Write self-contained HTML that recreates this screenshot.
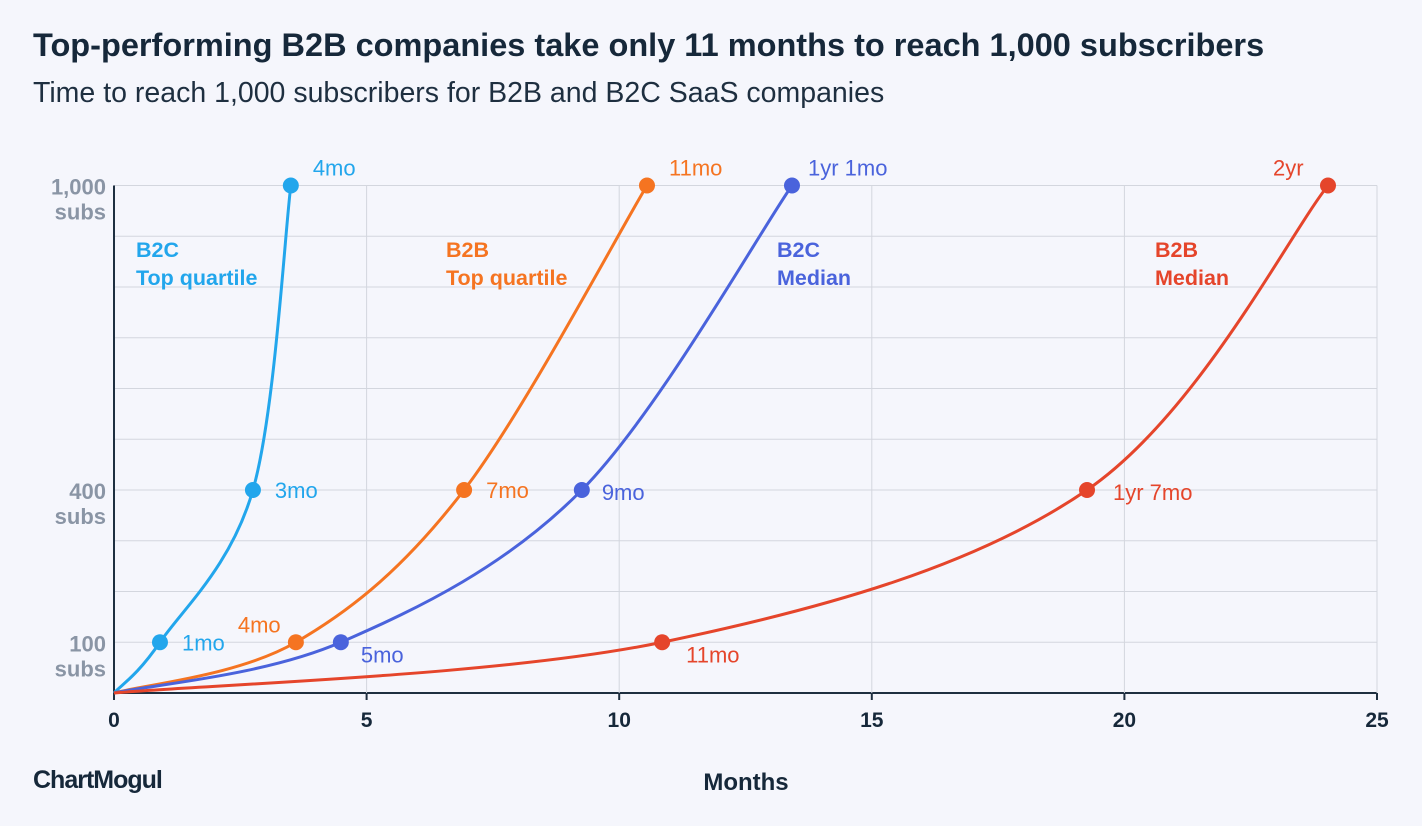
<!DOCTYPE html>
<html><head><meta charset="utf-8"><style>
body{margin:0;background:#f5f6fc;font-family:"Liberation Sans",sans-serif;}
svg{display:block}
</style></head><body>
<svg width="1422" height="826">
<rect width="1422" height="826" fill="#f5f6fc"/>
<text x="33" y="56" font-size="32.5" font-weight="bold" fill="#16283a">Top-performing B2B companies take only 11 months to reach 1,000 subscribers</text>
<text x="33" y="102" font-size="28.5" fill="#1e2f40">Time to reach 1,000 subscribers for B2B and B2C SaaS companies</text>
<g id="grid"></g>
<g id="series"></g>
<text x="746" y="790" font-size="24" font-weight="bold" fill="#16283a" text-anchor="middle">Months</text>
<text x="33" y="788" font-size="25" font-weight="bold" fill="#16283a" letter-spacing="-1">ChartMogul</text>
</svg>
<script>
const xTicks=[0,5,10,15,20,25];
const yGrid=[0,100,200,300,400,500,600,700,800,900,1000];
const yLabels=[100,400,1000];
const seriesNames=["B2C Top quartile","B2B Top quartile","B2C Median","B2B Median"];
const monthsB2CTop=[0,0.91,2.75,3.5];
const monthsB2BTop=[0,3.6,6.93,10.55];
const monthsB2CMed=[0,4.49,9.26,13.42];
const monthsB2BMed=[0,10.85,19.26,24.03];
const subsLevels=[0,100,400,1000];
const pointLabelsB2CTop=["","1mo","3mo","4mo"];
const pointLabelsB2BTop=["","4mo","7mo","11mo"];
const pointLabelsB2CMed=["","5mo","9mo","1yr 1mo"];
const pointLabelsB2BMed=["","11mo","1yr 7mo","2yr"];
const NS="http://www.w3.org/2000/svg";
const X=m=>114+m*50.52, Y=s=>693-s*0.5075;
function mk(t,a,p){const e=document.createElementNS(NS,t);for(const k in a)e.setAttribute(k,a[k]);p.appendChild(e);return e;}
const g=document.getElementById('grid');
yGrid.forEach(v=>{const l=mk('line',{x1:114,x2:1377,y1:Y(v),y2:Y(v),stroke:v===0?'#1e2f40':'#d3d6de','stroke-width':v===0?2:1},g);

});
xTicks.forEach(v=>{if(v>0){const l=mk('line',{x1:X(v),x2:X(v),y1:Y(1000),y2:Y(0),stroke:'#d3d6de'},g);

}
const tk=mk('line',{x1:X(v),x2:X(v),y1:Y(0),y2:Y(0)+7,stroke:'#1e2f40','stroke-width':2},g);


const t=mk('text',{x:X(v),y:727,'font-size':21,'font-weight':'bold',fill:'#16283a','text-anchor':'middle'},g);t.textContent=v;

});
mk('line',{x1:114,x2:114,y1:Y(1000),y2:Y(0),stroke:'#1e2f40','stroke-width':2},g);
yLabels.forEach(v=>{const t=mk('text',{x:106,y:Y(v)+9,'font-size':22,'font-weight':'bold',fill:'#8a95a5','text-anchor':'end'},g);


mk('tspan',{x:106},t).textContent=v.toLocaleString('en-US');mk('tspan',{x:106,dy:25},t).textContent='subs';});
const S=document.getElementById('series');
const cfg=[
 [monthsB2CTop,pointLabelsB2CTop,'#22a6ec',[136,257],[[0,0],[22,0],[22,0],[22,-18]]],
 [monthsB2BTop,pointLabelsB2BTop,'#f57421',[446,257],[[0,0],[-58,-18],[22,0],[22,-18]]],
 [monthsB2CMed,pointLabelsB2CMed,'#4a63dc',[777,257],[[0,0],[20,12],[20,2],[16,-18]]],
 [monthsB2BMed,pointLabelsB2BMed,'#e5452b',[1155,257],[[0,0],[24,12],[26,2],[-55,-18]]]];
function curve(pts){let d=`M${pts[0][0]},${pts[0][1]}`;
for(let i=0;i<pts.length-1;i++){const p0=pts[Math.max(0,i-1)],p1=pts[i],p2=pts[i+1],p3=pts[Math.min(pts.length-1,i+2)];
const c1=[p1[0]+(p2[0]-p0[0])/6,p1[1]+(p2[1]-p0[1])/6],c2=[p2[0]-(p3[0]-p1[0])/6,p2[1]-(p3[1]-p1[1])/6];
d+=` C${c1[0]},${c1[1]} ${c2[0]},${c2[1]} ${p2[0]},${p2[1]}`;}return d;}
cfg.forEach((c,si)=>{const [ms,lb,col,leg,off]=c;
const pts=ms.map((m,i)=>[X(m),Y(subsLevels[i])]);
const p=mk('path',{d:curve(pts),fill:'none',stroke:col,'stroke-width':3},S);


pts.forEach((q,i)=>{if(i===0)return;
const dt=mk('circle',{cx:q[0],cy:q[1],r:8,fill:col},S);


const t=mk('text',{x:q[0]+off[i][0],y:q[1]+8+off[i][1],'font-size':22,fill:col},S);t.textContent=lb[i];

});
const parts=seriesNames[si].split(' ');
const t=mk('text',{x:leg[0],y:leg[1],'font-size':21.5,'font-weight':'bold',fill:col},S);


mk('tspan',{x:leg[0]},t).textContent=parts[0];mk('tspan',{x:leg[0],dy:28},t).textContent=parts.slice(1).join(' ');});
</script>
</body></html>
